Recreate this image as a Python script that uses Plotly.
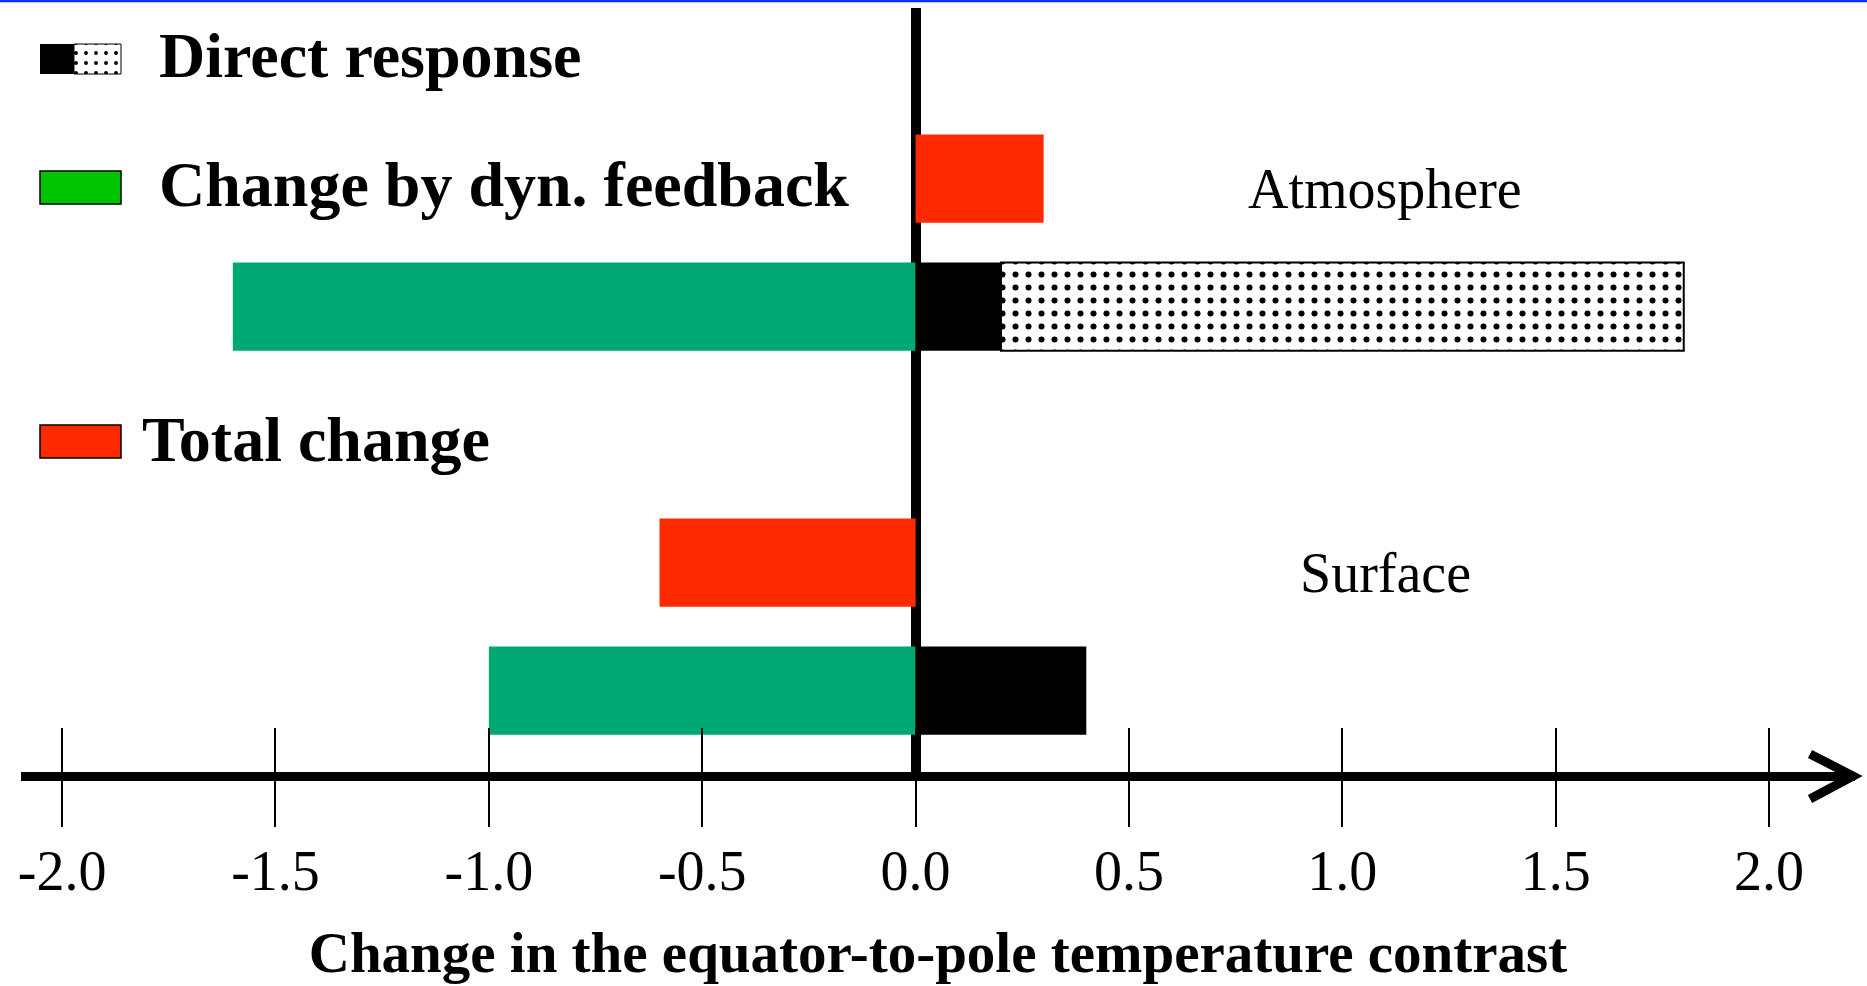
import plotly.graph_objects as go

# data
regions = ["Surface", "Atmosphere"]
total_change = [-0.6, 0.3]
dyn_feedback = [-1.0, -1.6]
direct_solid = [0.4, 0.2]
direct_dotted = [0.0, 1.6]

tick_vals = [-2.0, -1.5, -1.0, -0.5, 0.0, 0.5, 1.0, 1.5, 2.0]
tick_text = ["-2.0", "-1.5", "-1.0", "-0.5", "0.0", "0.5", "1.0", "1.5", "2.0"]

legend_labels = ["Direct response", "Change by dyn. feedback", "Total change"]
x_title = "Change in the equator-to-pole temperature contrast"

W, H = 1867, 986
L, R, T, B = 21, 12, 8, 214
SERIF = "Liberation Serif, Times New Roman, serif"

GREEN = "#00A874"
RED = "#FF2A00"
DOTS = dict(shape=".", fgcolor="black", bgcolor="white", size=13, solidity=0.17, fillmode="replace")


def px_x(px):
    return (px - L) / (W - L - R)


def px_y(py):
    return (H - B - py) / (H - T - B)


# each region gets two rows: lower = dyn feedback / direct response, upper = total change
row_lo = [3 * i for i in range(len(regions))]
row_hi = [3 * i + 1 for i in range(len(regions))]
bw = 0.69

fig = go.Figure()
fig.add_trace(go.Bar(y=row_hi, x=total_change, orientation="h", width=bw,
                     marker=dict(color=RED, line=dict(width=0)), name=legend_labels[2]))
fig.add_trace(go.Bar(y=row_lo, x=dyn_feedback, orientation="h", width=bw,
                     marker=dict(color=GREEN, line=dict(width=0)), name=legend_labels[1]))
fig.add_trace(go.Bar(y=row_lo, x=direct_solid, orientation="h", width=bw,
                     marker=dict(color="black", line=dict(width=0)), name=legend_labels[0]))
dy = [r for r, v in zip(row_lo, direct_dotted) if v > 0]
dx = [v for v in direct_dotted if v > 0]
db = [s for s, v in zip(direct_solid, direct_dotted) if v > 0]
fig.add_trace(go.Bar(y=dy, x=dx, base=db, orientation="h", width=bw,
                     marker=dict(color="white", line=dict(width=2, color="black"), pattern=DOTS),
                     name=legend_labels[0] + " (dotted)"))

# region labels
for name, r in zip(regions, row_hi):
    fig.add_annotation(x=1.1, y=r, text=name, showarrow=False, yshift=-10,
                       font=dict(family=SERIF, size=56, color="black"))

# legend drawn by hand
shapes = []
sw_x0, sw_x1 = px_x(40), px_x(121)
shapes.append(dict(type="rect", xref="paper", yref="paper", x0=sw_x0, x1=px_x(74),
                   y0=px_y(74), y1=px_y(44), fillcolor="black", line=dict(width=0)))
shapes.append(dict(type="rect", xref="paper", yref="paper", x0=sw_x0, x1=sw_x1,
                   y0=px_y(204), y1=px_y(171), fillcolor="#00C400",
                   line=dict(width=1.5, color="black")))
shapes.append(dict(type="rect", xref="paper", yref="paper", x0=sw_x0, x1=sw_x1,
                   y0=px_y(458), y1=px_y(425), fillcolor=RED,
                   line=dict(width=1.5, color="black")))
# blue rule on top
shapes.append(dict(type="line", xref="paper", yref="paper", x0=px_x(0), x1=px_x(W),
                   y0=px_y(1), y1=px_y(1), line=dict(color="#0A2EFF", width=2.5)))
# arrow head on the x axis
shapes.append(dict(type="path", xref="paper", yref="paper",
                   path="M {} {} L {} {} L {} {}".format(px_x(1810), px_y(754), px_x(1853), px_y(776),
                                                         px_x(1810), px_y(799)),
                   line=dict(color="black", width=9)))
fig.update_layout(shapes=shapes)

# dotted legend swatch via a filled scatter on a pixel-mapped overlay axis
fig.add_trace(go.Scatter(x=[74, 121, 121, 74, 74], y=[44, 44, 74, 74, 44],
                         xaxis="x3", yaxis="y3", mode="lines", fill="toself",
                         line=dict(color="black", width=1), fillcolor="white",
                         fillpattern=dict(DOTS, size=10, solidity=0.12),
                         hoverinfo="skip"))

for lab, ypx, xpx in zip(legend_labels, [55, 185, 439], [157, 157, 140]):
    fig.add_annotation(xref="paper", yref="paper", x=px_x(xpx), y=px_y(ypx), text="<b>%s</b>" % lab,
                       xanchor="left", yanchor="middle", showarrow=False,
                       font=dict(family=SERIF, size=64, color="black"))

px_per_unit = 426.75
x0 = -(915.6 - L) / px_per_unit
x1 = x0 + (W - L - R) / px_per_unit
py_unit = 128.0
y1 = (690.6 - T) / py_unit
y0 = y1 - (H - T - B) / py_unit

fig.update_layout(
    width=W, height=H,
    margin=dict(l=L, r=R, t=T, b=B),
    paper_bgcolor="white", plot_bgcolor="white",
    showlegend=False, barmode="overlay",
    xaxis=dict(range=[x0, x1], tickvals=tick_vals, ticktext=tick_text,
               showline=True, linecolor="black", linewidth=9, mirror=False,
               ticks="outside", ticklen=46, tickwidth=2, tickcolor="black",
               ticklabelstandoff=-4,
               showgrid=False, zeroline=True, zerolinecolor="black", zerolinewidth=10,
               tickfont=dict(family=SERIF, size=56, color="black"),
               title=dict(text="<b>%s</b>" % x_title, standoff=34,
                          font=dict(family=SERIF, size=57, color="black"))),
    xaxis2=dict(range=[x0, x1], overlaying="x", anchor="y", side="bottom",
                tickvals=tick_vals, ticks="inside", ticklen=44, tickwidth=2, tickcolor="black",
                showticklabels=False, showgrid=False, zeroline=False, showline=False),
    yaxis=dict(range=[y0, y1], visible=False, showgrid=False, zeroline=False),
    xaxis3=dict(range=[L, W - R], domain=[0, 1], anchor="y3", visible=False, overlaying="x"),
    yaxis3=dict(range=[H - B, T], domain=[0, 1], anchor="x3", visible=False, overlaying="y"),
)
# dummy trace so xaxis2 is drawn
fig.add_trace(go.Scatter(x=[0], y=[0], xaxis="x2", yaxis="y", mode="markers",
                         marker=dict(opacity=0), hoverinfo="skip"))

# page body has a default 8px margin; drop it so the figure sits at the window corner
fig.write_html("out.html", config={"displayModeBar": False},
               post_script="document.body.style.margin='0';")
